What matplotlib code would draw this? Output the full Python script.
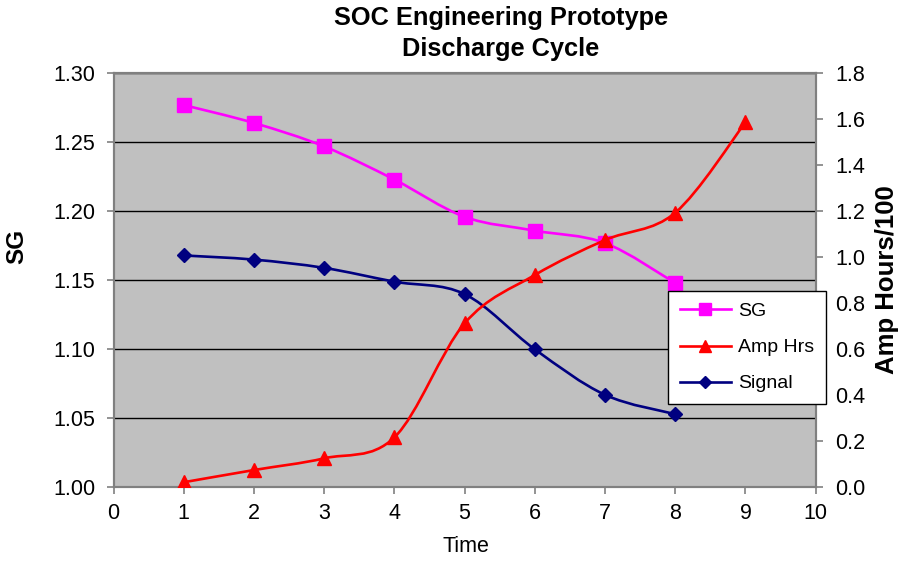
import numpy as np
import matplotlib
matplotlib.use("Agg")
import matplotlib.pyplot as plt
from matplotlib.path import Path
from matplotlib.patches import PathPatch
from matplotlib.lines import Line2D
from matplotlib.ticker import FormatStrFormatter, MultipleLocator

plt.rcParams['font.family'] = ['Liberation Sans', 'DejaVu Sans']

# Data
time_sg = [1, 2, 3, 4, 5, 6, 7, 8]
sg = [1.277, 1.264, 1.247, 1.223, 1.196, 1.186, 1.177, 1.148]

time_signal = [1, 2, 3, 4, 5, 6, 7, 8]
signal = [1.168, 1.165, 1.159, 1.149, 1.140, 1.100, 1.067, 1.053]

time_amp = [1, 2, 3, 4, 5, 6, 7, 8, 9]
amp_hrs = [0.022, 0.075, 0.126, 0.217, 0.713, 0.923, 1.075, 1.194, 1.587]

title_lines = ["SOC Engineering Prototype", "Discharge Cycle"]
series_names = ["SG", "Amp Hrs", "Signal"]

SG_COLOR = "#FF00FF"
AMP_COLOR = "#FF0000"
SIG_COLOR = "#000080"
AXIS_GRAY = "#808080"
LW = 1.9


def smooth_path(xs, ys):
    """Cubic Bezier path through the points (Catmull-Rom style tangents)."""
    p = np.column_stack([xs, ys]).astype(float)
    n = len(p)
    verts = [p[0]]
    codes = [Path.MOVETO]
    for i in range(n - 1):
        p0 = p[i - 1] if i > 0 else p[i]
        p1 = p[i]
        p2 = p[i + 1]
        p3 = p[i + 2] if i + 2 < n else p[i + 1]
        c1 = p1 + (p2 - p0) / 6.0
        c2 = p2 - (p3 - p1) / 6.0
        verts += [c1, c2, p2]
        codes += [Path.CURVE4] * 3
    return Path(verts, codes)


fig = plt.figure(figsize=(9.03, 5.61), dpi=100)
ax = fig.add_axes([113.5 / 903, 1 - 487.3 / 561, (815.7 - 113.5) / 903, (487.3 - 73.3) / 561])
ax.set_facecolor("#C0C0C0")
ax2 = ax.twinx()

# Left axis: SG scale
ax.set_xlim(0, 10)
ax.set_ylim(1.00, 1.30)
ax.xaxis.set_major_locator(MultipleLocator(1))
ax.yaxis.set_major_locator(MultipleLocator(0.05))
ax.yaxis.set_major_formatter(FormatStrFormatter("%.2f"))
ax.grid(axis="y", color="black", linewidth=1.0)
ax.set_axisbelow(True)

# Right axis: Amp Hours/100 scale
ax2.set_ylim(0.0, 1.8)
ax2.yaxis.set_major_locator(MultipleLocator(0.2))
ax2.yaxis.set_major_formatter(FormatStrFormatter("%.1f"))

for a in (ax, ax2):
    for s in a.spines.values():
        s.set_color(AXIS_GRAY)
        s.set_linewidth(1.5)
    a.tick_params(colors="black", labelsize=15.5, length=5, width=1.2, color=AXIS_GRAY)
ax.tick_params(axis="y", pad=8)
ax.tick_params(axis="x", pad=6)
ax2.tick_params(axis="y", pad=9)

# SG series
ax.add_patch(PathPatch(smooth_path(time_sg, sg), facecolor="none", edgecolor=SG_COLOR,
                       linewidth=LW, zorder=3))
ax.plot(time_sg, sg, linestyle="none", marker="s", markersize=10.5, color=SG_COLOR, zorder=4)

# Signal series
ax.add_patch(PathPatch(smooth_path(time_signal, signal), facecolor="none", edgecolor=SIG_COLOR,
                       linewidth=LW, zorder=3))
ax.plot(time_signal, signal, linestyle="none", marker="D", markersize=7.5, color=SIG_COLOR, zorder=4)

# Amp Hrs series
ax2.add_patch(PathPatch(smooth_path(time_amp, amp_hrs), facecolor="none", edgecolor=AMP_COLOR,
                        linewidth=LW, zorder=3))
ax2.plot(time_amp, amp_hrs, linestyle="none", marker="^", markersize=10.5, color=AMP_COLOR, zorder=4)

# Titles and axis labels
fig.text(501 / 903, 1 - 25.5 / 561, title_lines[0], ha="center", va="baseline",
         fontsize=18.3, fontweight="bold")
fig.text(501 / 903, 1 - 56 / 561, title_lines[1], ha="center", va="baseline",
         fontsize=18.3, fontweight="bold")
fig.text(17 / 903, 1 - 246 / 561, "SG", rotation=90, ha="center", va="center",
         fontsize=17.5, fontweight="bold")
fig.text(887 / 903, 1 - 280 / 561, "Amp Hours/100", rotation=90, ha="center", va="center",
         fontsize=18.5, fontweight="bold")
fig.text(466 / 903, 1 - 546 / 561, "Time", ha="center", va="center", fontsize=15.5)

# Legend
handles = [
    Line2D([], [], color=SG_COLOR, marker="s", markersize=9, linewidth=LW),
    Line2D([], [], color=AMP_COLOR, marker="^", markersize=9, linewidth=LW),
    Line2D([], [], color=SIG_COLOR, marker="D", markersize=6.5, linewidth=LW),
]
leg = ax2.legend(handles, series_names, loc="upper left",
                 bbox_to_anchor=(668 / 903, 1 - 291 / 561), bbox_transform=fig.transFigure,
                 fontsize=14, frameon=True, fancybox=False, edgecolor="black",
                 framealpha=1.0, borderaxespad=0, handlelength=2.65, handletextpad=0.35,
                 labelspacing=0.95, borderpad=0.6)
leg.get_frame().set_linewidth(1.0)
leg.set_zorder(10)

fig.savefig("out.png", dpi=100, facecolor="white")
